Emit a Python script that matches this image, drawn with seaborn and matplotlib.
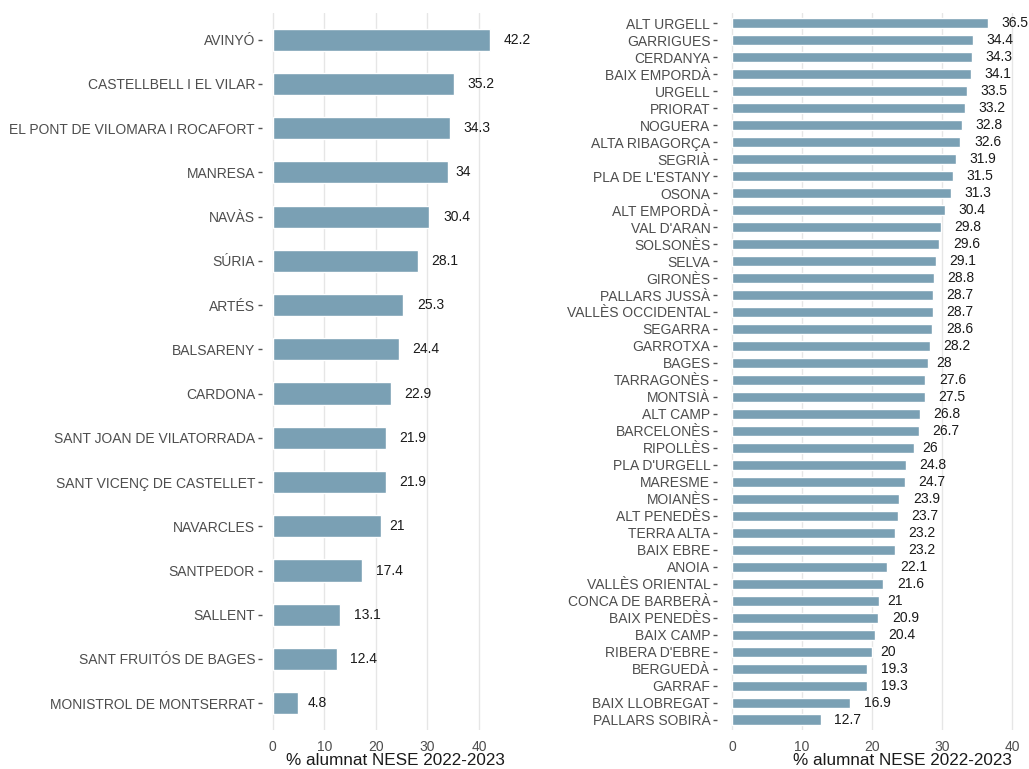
import matplotlib
matplotlib.use("Agg")
import matplotlib.pyplot as plt
import seaborn as sns
import pandas as pd

# Municipis (esquerra)
municipis = ["AVINYÓ", "CASTELLBELL I EL VILAR", "EL PONT DE VILOMARA I ROCAFORT", "MANRESA",
             "NAVÀS", "SÚRIA", "ARTÉS", "BALSARENY", "CARDONA", "SANT JOAN DE VILATORRADA",
             "SANT VICENÇ DE CASTELLET", "NAVARCLES", "SANTPEDOR", "SALLENT",
             "SANT FRUITÓS DE BAGES", "MONISTROL DE MONTSERRAT"]
pct_municipis = [42.2, 35.2, 34.3, 34, 30.4, 28.1, 25.3, 24.4, 22.9, 21.9, 21.9, 21, 17.4,
                 13.1, 12.4, 4.8]

# Comarques (dreta)
comarques = ["ALT URGELL", "GARRIGUES", "CERDANYA", "BAIX EMPORDÀ", "URGELL", "PRIORAT",
             "NOGUERA", "ALTA RIBAGORÇA", "SEGRIÀ", "PLA DE L'ESTANY", "OSONA", "ALT EMPORDÀ",
             "VAL D'ARAN", "SOLSONÈS", "SELVA", "GIRONÈS", "PALLARS JUSSÀ", "VALLÈS OCCIDENTAL",
             "SEGARRA", "GARROTXA", "BAGES", "TARRAGONÈS", "MONTSIÀ", "ALT CAMP", "BARCELONÈS",
             "RIPOLLÈS", "PLA D'URGELL", "MARESME", "MOIANÈS", "ALT PENEDÈS", "TERRA ALTA",
             "BAIX EBRE", "ANOIA", "VALLÈS ORIENTAL", "CONCA DE BARBERÀ", "BAIX PENEDÈS",
             "BAIX CAMP", "RIBERA D'EBRE", "BERGUEDÀ", "GARRAF", "BAIX LLOBREGAT",
             "PALLARS SOBIRÀ"]
pct_comarques = [36.5, 34.4, 34.3, 34.1, 33.5, 33.2, 32.8, 32.6, 31.9, 31.5, 31.3, 30.4, 29.8,
                 29.6, 29.1, 28.8, 28.7, 28.7, 28.6, 28.2, 28, 27.6, 27.5, 26.8, 26.7, 26, 24.8,
                 24.7, 23.9, 23.7, 23.2, 23.2, 22.1, 21.6, 21, 20.9, 20.4, 20, 19.3, 19.3, 16.9,
                 12.7]

x_ticks = [0, 10, 20, 30, 40]
x_label = "% alumnat NESE 2022-2023"

sns.set_style("white")
plt.rcParams["font.family"] = ["Liberation Sans", "DejaVu Sans"]

BAR = "#7aa0b4"

fig = plt.figure(figsize=(10.29, 7.69), dpi=100)
ax1 = fig.add_axes([0.2546, 0.051, 0.2324, 0.932])
ax2 = fig.add_axes([0.697, 0.051, 0.297, 0.932])

panels = [
    (ax1, municipis, pct_municipis, 0.5, (-2.1, 44.3), 0.56),
    (ax2, comarques, pct_comarques, 0.6, (-2.1, 41.5), 0.605),
]

labels = []
for ax, cats, vals, w, xl, lab_x in panels:
    df = pd.DataFrame({"nom": cats, "pct": vals})
    sns.barplot(data=df, x="pct", y="nom", orient="h", color=BAR, width=w,
                saturation=1, ax=ax, zorder=2)
    ax.set_xlim(*xl)
    ax.set_ylim(len(cats) - 1 + 0.6, -0.6)
    ax.set_xticks(x_ticks)
    ax.grid(axis="x", color="#e6e6e6", linewidth=1.0, zorder=0)
    ax.set_axisbelow(True)
    for s in ax.spines.values():
        s.set_visible(False)
    ax.tick_params(axis="y", length=3, width=1, color="#555555", pad=2,
                   labelsize=10, labelcolor="#4d4d4d", left=True)
    ax.tick_params(axis="x", length=0, pad=7, labelsize=10, labelcolor="#4d4d4d")
    ax.set_ylabel("")
    ax.set_xlabel(x_label, fontsize=12.3, color="#1a1a1a")
    ax.xaxis.set_label_coords(lab_x, -0.043, transform=ax.transAxes)
    ax.xaxis.label.set_va("center")
    for i, v in enumerate(vals):
        t = ax.text(v, i, f"{v:g}", ha="left", va="center", fontsize=10, color="#1a1a1a")
        labels.append((ax, t, v, i))

# shift value labels by half their width (like hjust = -0.5)
fig.canvas.draw()
r = fig.canvas.get_renderer()
for ax, t, v, i in labels:
    bb = t.get_window_extent(renderer=r)
    x0 = ax.transData.transform((v, i))[0]
    xd = ax.transData.inverted().transform((x0 + 0.5 * bb.width, 0))[0]
    t.set_x(xd)

fig.savefig("out.png", dpi=100)
